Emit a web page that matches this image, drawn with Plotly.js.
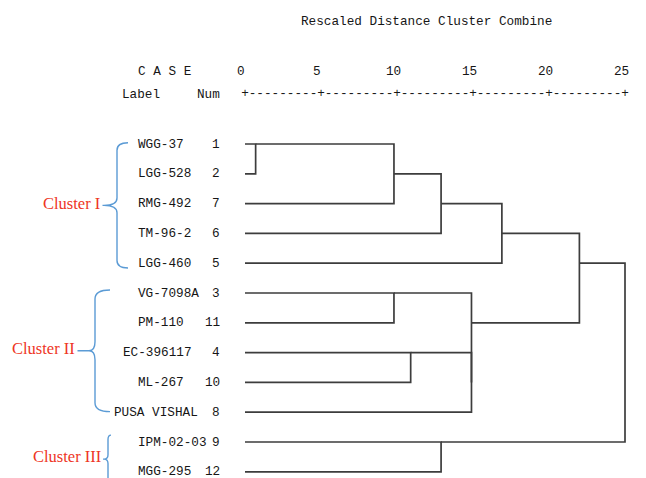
<!DOCTYPE html>
<html><head><meta charset="utf-8">
<script src="https://cdn.plot.ly/plotly-3.0.1.min.js"></script>
<style>html,body{margin:0;padding:0;background:#fff}#chart{width:646px;height:478px}</style>
</head><body><div id="chart"></div>
<script>
// ---- data ----
const caseLabels = ['WGG-37','LGG-528','RMG-492','TM-96-2','LGG-460','VG-7098A','PM-110','EC-396117','ML-267','PUSA VISHAL','IPM-02-03','MGG-295'];
const caseNums = [1, 2, 7, 6, 5, 3, 11, 4, 10, 8, 9, 12];
// merges: node ids 0-11 are the cases in display order, merge k creates node 12+k
const mergeLeft  = [0, 12, 5, 7, 10, 13, 15, 14, 17, 20, 21];
const mergeRight = [1, 2, 6, 8, 11, 3, 9, 18, 4, 19, 16];
const mergeDist  = [0.7, 9.8, 9.8, 10.9, 12.9, 12.9, 14.9, 14.9, 16.9, 22.0, 25.0];
const axisTicks = [0, 5, 10, 15, 20, 25];
const chartTitle = 'Rescaled Distance Cluster Combine';
const clusterNames = ['Cluster I', 'Cluster II', 'Cluster III'];
const clusterFirstRow = [0, 5, 10];
const clusterLastRow = [4, 9, 11];

// ---- layout helpers (pixel <-> data) ----
const W = 646, H = 478;
const PX0 = 245, PXU = 15.2, PY0 = 144, PYU = 29.8;
const xd = px => (px - PX0) / PXU;
const yd = py => (py - PY0) / PYU;
const MONO = 'Liberation Mono, Courier New, monospace';
const FS = 12.7;
const TXT = '#161616';

// ---- dendrogram ----
const nodeX = caseLabels.map(() => 0);
const nodeY = caseLabels.map((_, i) => i);
const dx = [], dy = [];
mergeDist.forEach((d, k) => {
  const a = mergeLeft[k], b = mergeRight[k];
  dx.push(nodeX[a], d, d, nodeX[b], null);
  dy.push(nodeY[a], nodeY[a], nodeY[b], nodeY[b], null);
  nodeX.push(d);
  nodeY.push(Math.floor((nodeY[a] + nodeY[b]) / 2));
});

const traces = [{
  type: 'scatter', mode: 'lines', x: dx, y: dy,
  line: {color: '#3d3d3d', width: 1.7}, hoverinfo: 'skip', showlegend: false
}];

// axis row "+---------+..."
const headY2 = yd(94), headY1 = yd(71.5);
traces.push({
  type: 'scatter', mode: 'text', x: axisTicks, y: axisTicks.map(() => headY2),
  text: axisTicks.map(() => '+'), textposition: 'middle center',
  textfont: {family: MONO, size: FS, color: TXT}, hoverinfo: 'skip', showlegend: false
});
const mids = axisTicks.slice(1).map((t, i) => (t + axisTicks[i]) / 2);
traces.push({
  type: 'scatter', mode: 'text', x: mids, y: mids.map(() => headY2),
  text: mids.map(() => '---------'), textposition: 'middle center',
  textfont: {family: MONO, size: FS, color: TXT}, hoverinfo: 'skip', showlegend: false
});

const ann = [];
const monoFont = {family: MONO, size: FS, color: TXT};
ann.push({x: xd(426), y: yd(21), text: chartTitle, showarrow: false, xanchor: 'center', yanchor: 'middle', font: monoFont, borderpad: 0});
axisTicks.forEach(t => ann.push({x: t, y: headY1, text: String(t), showarrow: false, xanchor: 'center', yanchor: 'middle', xshift: -4, font: monoFont, borderpad: 0}));
ann.push({x: xd(137), y: headY1, text: 'C A S E', showarrow: false, xanchor: 'left', yanchor: 'middle', font: monoFont, borderpad: 0});
ann.push({x: xd(121), y: headY2, text: 'Label', showarrow: false, xanchor: 'left', yanchor: 'middle', font: monoFont, borderpad: 0});
ann.push({x: xd(196), y: headY2, text: 'Num', showarrow: false, xanchor: 'left', yanchor: 'middle', font: monoFont, borderpad: 0});

const labelShift = {'EC-396117': -15, 'PUSA VISHAL': -24};
caseLabels.forEach((lab, i) => {
  ann.push({x: xd(137), y: i, text: lab, showarrow: false, xanchor: 'left', yanchor: 'middle',
    xshift: labelShift[lab] || 0, font: monoFont, borderpad: 0});
  ann.push({x: xd(221), y: i, text: String(caseNums[i]), showarrow: false, xanchor: 'right', yanchor: 'middle',
    font: monoFont, borderpad: 0});
});

// ---- cluster braces ----
const braceStyle = [
  {endX: 128, spineX: 117, tipX: 104, topPad: -0.04, botPad: 0.16, labelRight: 101, r: 0.25},
  {endX: 110, spineX: 95, tipX: 89, topPad: -0.1, botPad: -0.02, labelRight: 76, r: 0.3},
  {endX: 111, spineX: 108, tipX: 104, topPad: -0.23, botPad: 0.38, labelRight: 101.5, r: 0.15}
];
const shapes = [];
clusterNames.forEach((name, c) => {
  const s = braceStyle[c];
  const top = clusterFirstRow[c] + s.topPad, bot = clusterLastRow[c] + s.botPad;
  const mid = (top + bot) / 2;
  const ex = xd(s.endX), sx = xd(s.spineX), tx = xd(s.tipX), r = s.r;
  const path = `M ${ex},${top} Q ${sx},${top} ${sx},${top + r} L ${sx},${mid - r} Q ${sx},${mid} ${tx},${mid} ` +
               `Q ${sx},${mid} ${sx},${mid + r} L ${sx},${bot - r} Q ${sx},${bot} ${ex},${bot} ` +
               `M ${tx},${mid} L ${xd(s.labelRight + 1.5)},${mid}`;
  shapes.push({type: 'path', xref: 'x', yref: 'y', path: path, line: {color: '#5b9bd5', width: 1.4}});
  ann.push({x: xd(s.labelRight), y: mid - 0.08, text: name, showarrow: false, xanchor: 'right', yanchor: 'middle',
    font: {family: 'Liberation Serif, Times New Roman, serif', size: 16.5, color: '#ee3524'}, borderpad: 0});
});

const layout = {
  width: W, height: H, margin: {l: 0, r: 0, t: 0, b: 0, pad: 0},
  paper_bgcolor: '#ffffff', plot_bgcolor: '#ffffff',
  xaxis: {range: [xd(0), xd(W)], autorange: false, visible: false, showgrid: false, zeroline: false, fixedrange: true},
  yaxis: {range: [yd(H), yd(0)], autorange: false, visible: false, showgrid: false, zeroline: false, fixedrange: true},
  annotations: ann, shapes: shapes, showlegend: false, hovermode: false
};
Plotly.newPlot('chart', traces, layout, {staticPlot: true, displayModeBar: false});
</script></body></html>
